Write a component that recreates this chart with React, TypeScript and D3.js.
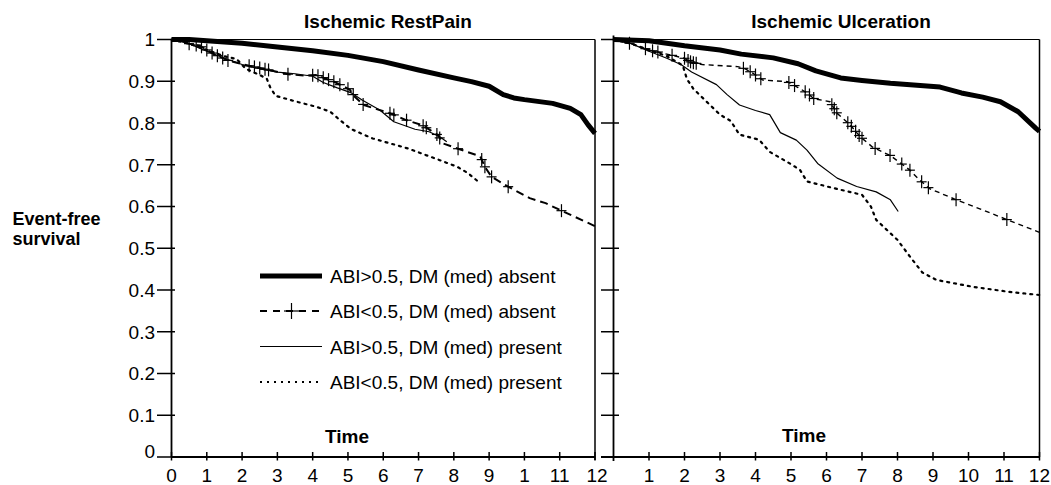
import React from "react";
import * as d3 from "d3";

type Pt = [number, number];

// ---- Data (time in years, event-free survival) ----
const yTicks = [0, 0.1, 0.2, 0.3, 0.4, 0.5, 0.6, 0.7, 0.8, 0.9, 1];
const yTickLabels = ["0", "0.1", "0.2", "0.3", "0.4", "0.5", "0.6", "0.7", "0.8", "0.9", "1"];
const xTicks = [0, 1, 2, 3, 4, 5, 6, 7, 8, 9, 10, 11, 12];
const leftXTickLabels = ["0", "1", "2", "3", "4", "5", "6", "7", "8", "9", "1", "11", "12"];
const rightXTickLabels = ["", "1", "2", "3", "4", "5", "6", "7", "8", "9", "10", "11", "12"];

const panelTitles = ["Ischemic RestPain", "Ischemic Ulceration"];
const seriesNames = [
  "ABI>0.5, DM (med) absent",
  "ABI<0.5, DM (med) absent",
  "ABI>0.5, DM (med) present",
  "ABI<0.5, DM (med) present",
];

// Left panel: Ischemic RestPain
const restThick: Pt[] = [[0,1],[0.5,1],[1,0.997],[2,0.991],[3,0.982],[4,0.973],[5,0.962],[6,0.947],[7,0.927],[8,0.908],[8.5,0.899],[9,0.888],[9.4,0.868],[9.7,0.86],[10,0.856],[10.8,0.847],[11.3,0.835],[11.6,0.82],[11.8,0.796],[12,0.775]];
const restDashed: Pt[] = [[0,1],[0.5,0.99],[0.8,0.985],[1.2,0.965],[1.6,0.95],[2.2,0.937],[2.7,0.928],[3.3,0.917],[3.8,0.913],[4.1,0.915],[4.6,0.899],[5.05,0.88],[5.2,0.862],[5.45,0.843],[6.2,0.823],[6.65,0.807],[7.1,0.795],[7.55,0.771],[7.7,0.751],[8.1,0.739],[8.75,0.72],[8.88,0.695],[9.07,0.671],[9.55,0.647],[10.15,0.62],[10.6,0.608],[11.05,0.59],[12,0.553]];
const restThin: Pt[] = [[0,1],[0.5,0.99],[1,0.972],[1.5,0.955],[2,0.94],[2.5,0.93],[3,0.922],[3.5,0.918],[4,0.912],[4.3,0.897],[4.7,0.884],[5.1,0.872],[5.4,0.855],[5.9,0.831],[6.3,0.803],[6.9,0.785],[7.3,0.779],[7.6,0.767],[7.8,0.755]];
const restDotted: Pt[] = [[0,1],[0.5,0.99],[1,0.975],[1.5,0.96],[1.85,0.953],[2.1,0.93],[2.5,0.915],[2.7,0.906],[2.8,0.885],[2.95,0.865],[3.5,0.852],[4.1,0.839],[4.5,0.827],[4.8,0.805],[5.1,0.785],[5.7,0.763],[6.7,0.739],[7.6,0.711],[8.1,0.695],[8.4,0.68],[8.7,0.659]];
const restCensor = [0.5,0.7,0.85,1.0,1.15,1.3,1.45,1.6,2.2,2.35,2.5,2.65,2.75,3.3,4.0,4.15,4.3,4.45,4.6,4.77,5.0,5.15,5.43,6.19,6.3,6.66,7.13,7.22,7.52,7.6,8.12,8.79,8.88,9.07,9.54,11.05];

// Right panel: Ischemic Ulceration
const ulcThick: Pt[] = [[0,1],[1,0.997],[2,0.985],[3,0.975],[3.6,0.965],[4.5,0.956],[5.2,0.942],[5.7,0.925],[6.4,0.908],[7,0.902],[7.8,0.895],[9.2,0.886],[9.8,0.872],[10.4,0.862],[10.9,0.851],[11.4,0.827],[11.9,0.787],[12,0.78]];
const ulcDashed: Pt[] = [[0,1],[0.5,0.99],[1,0.975],[1.5,0.965],[2,0.955],[2.2,0.945],[2.5,0.94],[3.5,0.935],[3.7,0.93],[3.95,0.918],[4.2,0.903],[4.9,0.899],[5.2,0.885],[5.45,0.872],[5.65,0.858],[6.1,0.851],[6.3,0.823],[6.65,0.797],[6.95,0.767],[7.3,0.742],[7.8,0.722],[8.35,0.687],[8.6,0.665],[8.9,0.643],[9.6,0.618],[10.3,0.595],[11.1,0.568],[12,0.538]];
const ulcThin: Pt[] = [[0,1],[0.5,0.99],[1,0.972],[1.5,0.955],[1.9,0.94],[2.2,0.922],[2.9,0.892],[3.2,0.868],[3.55,0.843],[4,0.83],[4.4,0.82],[4.7,0.777],[5.15,0.759],[5.45,0.735],[5.75,0.703],[6.3,0.668],[6.85,0.648],[7.4,0.635],[7.8,0.616],[8.02,0.588]];
const ulcDotted: Pt[] = [[0,1],[0.5,0.99],[1,0.975],[1.5,0.96],[1.95,0.938],[2.07,0.905],[2.25,0.882],[2.55,0.857],[3.0,0.82],[3.3,0.805],[3.55,0.772],[4.1,0.76],[4.4,0.731],[4.95,0.704],[5.25,0.688],[5.45,0.66],[6.2,0.644],[7.0,0.628],[7.25,0.6],[7.4,0.568],[8.0,0.52],[8.35,0.48],[8.7,0.442],[9.1,0.424],[10.1,0.408],[11.1,0.396],[12,0.388]];
const ulcCensor = [0.45,0.9,1.1,1.25,1.65,2.0,2.1,2.17,2.25,2.33,3.66,3.85,4.0,4.15,4.94,5.1,5.4,5.52,5.64,6.15,6.22,6.29,6.6,6.7,6.82,6.92,7.0,7.37,7.79,8.12,8.35,8.68,8.87,9.65,11.08];

// ---- Layout ----
const W = 1051;
const H = 485;
const FONT = "'Liberation Sans', Arial, Helvetica, sans-serif";
const yScale = d3.scaleLinear().domain([0, 1]).range([457, 39.5]);
const xLeft = d3.scaleLinear().domain([0, 12]).range([171.5, 595]);
const xRight = d3.scaleLinear().domain([0, 12]).range([613.5, 1039.5]);

function valueAt(curve: Pt[], t: number): number {
  const i = d3.bisector((d: Pt) => d[0]).right(curve, t);
  if (i <= 0) return curve[0][1];
  if (i >= curve.length) return curve[curve.length - 1][1];
  const a = curve[i - 1], b = curve[i];
  const f = (t - a[0]) / (b[0] - a[0]);
  return a[1] + f * (b[1] - a[1]);
}

type Styl = { width: number; dash?: string };
const styles: Styl[] = [
  { width: 5 },
  { width: 2, dash: "8,5" },
  { width: 1.2 },
  { width: 2.2, dash: "2,5" },
];

function Panel({ x, curves, censor, censorCurve, dashedWidth, dashPattern }: {
  x: d3.ScaleLinear<number, number>; curves: Pt[][]; censor: number[]; censorCurve: Pt[]; dashedWidth: number; dashPattern: string;
}) {
  const line = d3.line<Pt>().x((d) => x(d[0])).y((d) => yScale(d[1])).curve(d3.curveLinear);
  return (
    <g>
      {curves.map((c, i) => {
        const st = styles[i];
        const w = i === 1 ? dashedWidth : st.width;
        const dash = i === 1 ? dashPattern : st.dash;
        return (
          <path key={i} d={line(c) || ""} fill="none" stroke="#000" strokeWidth={w}
            strokeDasharray={dash} strokeLinejoin="round" strokeLinecap={i === 3 ? "round" : "butt"} />
        );
      })}
      {censor.map((t, i) => {
        const cx = x(t);
        const cy = yScale(valueAt(censorCurve, t));
        return (
          <g key={i} stroke="#000" strokeWidth={1.2}>
            <line x1={cx} x2={cx} y1={cy - 6.5} y2={cy + 6.5} />
            <line x1={cx - 5} x2={cx + 5} y1={cy} y2={cy} />
          </g>
        );
      })}
    </g>
  );
}

export default function App() {
  const y0 = yScale(0), y1 = yScale(1);
  const legendY = [276, 311, 346.5, 382];
  return (
    <svg width={W} height={H} viewBox={`0 0 ${W} ${H}`}
      style={{ position: "absolute", left: 0, top: 0, background: "#fff" }} fontFamily={FONT}>
      <rect x={0} y={0} width={W} height={H} fill="#fff" />

      {/* Titles */}
      <text x={388} y={28} textAnchor="middle" fontWeight="bold" fontSize={19}>{panelTitles[0]}</text>
      <text x={841} y={28} textAnchor="middle" fontWeight="bold" fontSize={19}>{panelTitles[1]}</text>

      {/* Y label */}
      <text x={12.5} y={225} fontWeight="bold" fontSize={18}>Event-free</text>
      <text x={12.5} y={245} fontWeight="bold" fontSize={18}>survival</text>

      {/* Left panel frame and axes */}
      <g stroke="#000" fill="none">
        <line x1={xLeft(0)} x2={xLeft(12)} y1={y1} y2={y1} strokeWidth={1.2} />
        <line x1={xLeft(12)} x2={xLeft(12)} y1={y1} y2={y0 + 3} strokeWidth={1.5} />
        <line x1={xLeft(0)} x2={xLeft(0)} y1={y1} y2={y0} strokeWidth={1.8} />
        <line x1={xLeft(0)} x2={xLeft(12)} y1={y0} y2={y0} strokeWidth={1.8} />
        {yTicks.map((v, i) => (
          <line key={"lyt" + i} x1={157} x2={xLeft(0) + 3.5} y1={yScale(v)} y2={yScale(v)} strokeWidth={1.5} />
        ))}
        {xTicks.map((v, i) => (
          <line key={"lxt" + i} x1={xLeft(v)} x2={xLeft(v)} y1={y0 - 5} y2={y0 + 3.5} strokeWidth={1.5} />
        ))}
      </g>
      {yTicks.map((v, i) => (
        <text key={"lyl" + i} x={155} y={v === 0 ? yScale(v) + 0.5 : yScale(v) + 6.8} textAnchor="end" fontSize={19}>
          {yTickLabels[i]}
        </text>
      ))}
      {xTicks.map((v, i) => (
        <text key={"lxl" + i} x={xLeft(v) + (v === 12 ? 2 : 0)} y={482} textAnchor="middle" fontSize={19}>
          {leftXTickLabels[i]}
        </text>
      ))}
      <text x={347} y={443} textAnchor="middle" fontWeight="bold" fontSize={19}>Time</text>

      {/* Right panel frame and axes */}
      <g stroke="#000" fill="none">
        <line x1={xRight(0)} x2={xRight(12)} y1={y1} y2={y1} strokeWidth={1.2} />
        <line x1={xRight(12)} x2={xRight(12)} y1={y1} y2={y0} strokeWidth={1.5} />
        <line x1={xRight(0)} x2={xRight(0)} y1={y1 - 4} y2={y0 + 4} strokeWidth={1.8} />
        <line x1={601} x2={xRight(12)} y1={y0} y2={y0} strokeWidth={1.8} />
        {yTicks.map((v, i) => (
          <line key={"ryt" + i} x1={601} x2={619} y1={yScale(v)} y2={yScale(v)} strokeWidth={1.5} />
        ))}
        {xTicks.filter((v) => v > 0).map((v, i) => (
          <line key={"rxt" + i} x1={xRight(v)} x2={xRight(v)} y1={y0 - 5} y2={y0 + 3.5} strokeWidth={1.5} />
        ))}
      </g>
      {xTicks.map((v, i) => (
        v === 12 ? (
          <text key={"rxl" + i} x={1050} y={482} textAnchor="end" fontSize={19}>{rightXTickLabels[i]}</text>
        ) : (
          <text key={"rxl" + i} x={xRight(v)} y={482} textAnchor="middle" fontSize={19}>{rightXTickLabels[i]}</text>
        )
      ))}
      <text x={804} y={442} textAnchor="middle" fontWeight="bold" fontSize={19}>Time</text>

      {/* Curves */}
      <Panel x={xLeft} curves={[restThick, restDashed, restThin, restDotted]} censor={restCensor}
        censorCurve={restDashed} dashedWidth={2} dashPattern="8,5" />
      <Panel x={xRight} curves={[ulcThick, ulcDashed, ulcThin, ulcDotted]} censor={ulcCensor}
        censorCurve={ulcDashed} dashedWidth={1.4} dashPattern="5,4" />

      {/* Legend */}
      {seriesNames.map((name, i) => {
        const st = styles[i];
        const ly = legendY[i];
        return (
          <g key={"lg" + i}>
            <line x1={260} x2={322} y1={ly} y2={ly} stroke="#000" strokeWidth={i === 0 ? 5 : st.width}
              strokeDasharray={i === 1 ? "7,6" : i === 3 ? "2,5" : undefined} />
            {i === 1 && (
              <g stroke="#000" strokeWidth={1.2}>
                <line x1={291.5} x2={291.5} y1={ly - 8} y2={ly + 8} />
                <line x1={284} x2={299} y1={ly} y2={ly} />
              </g>
            )}
            <text x={330} y={ly + 7} fontSize={19}>{name}</text>
          </g>
        );
      })}
    </svg>
  );
}
